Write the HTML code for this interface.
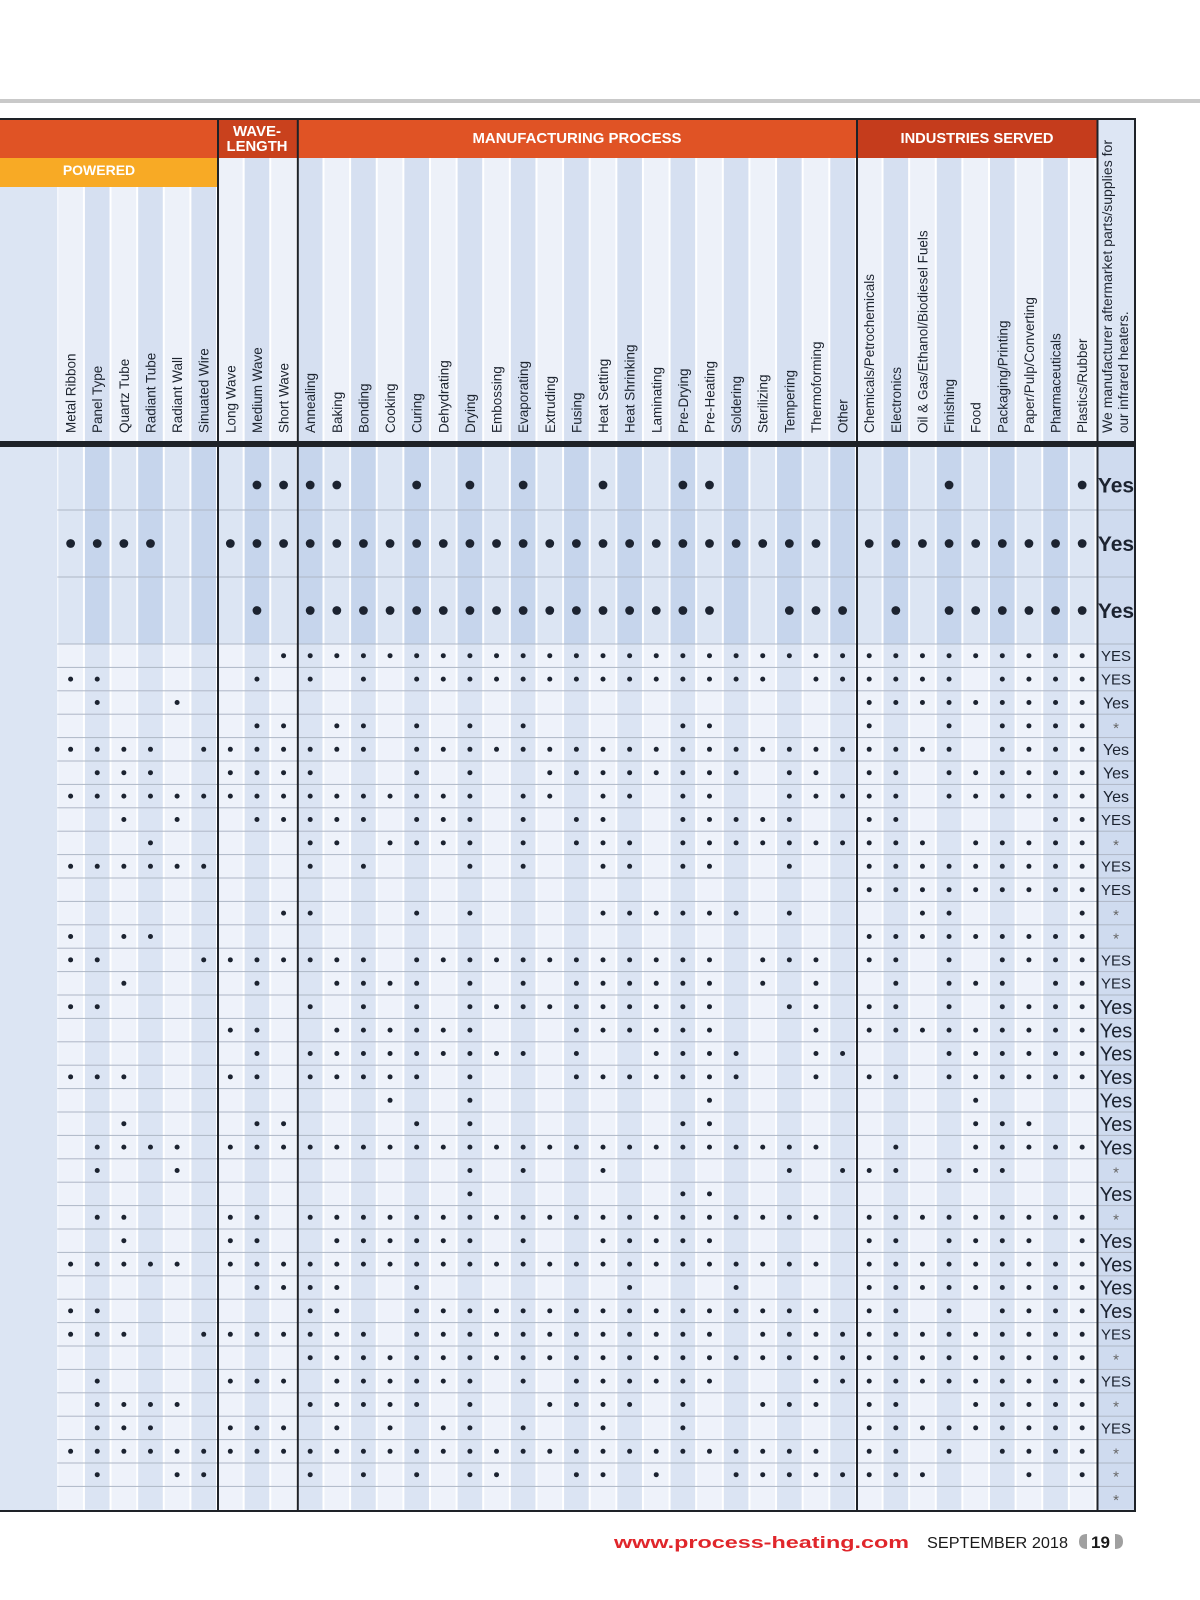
<!DOCTYPE html>
<html><head><meta charset="utf-8"><title>Infrared heater guide</title>
<style>
html,body{margin:0;padding:0;background:#fff;}
svg{display:block;font-family:"Liberation Sans",sans-serif;}
</style></head>
<body>
<svg id="chart" width="1200" height="1600" viewBox="0 0 1200 1600" xmlns="http://www.w3.org/2000/svg">
<rect x="0" y="0" width="1200" height="1600" fill="#ffffff"/>
<rect x="0" y="99" width="1200" height="4" fill="#c9c9c9"/>
<g id="layer"></g>
<text x="614" y="1548" font-size="17" font-weight="bold" fill="#e0262b" textLength="295" lengthAdjust="spacingAndGlyphs">www.process-heating.com</text>
<text x="927" y="1548" font-size="16" fill="#1a1a1a" textLength="141" lengthAdjust="spacingAndGlyphs">SEPTEMBER 2018</text>
<path d="M1087 1534 L1087 1549 Q1079 1549 1079 1541.5 Q1079 1534 1087 1534 Z" fill="#a0a0a0"/>
<text x="1091" y="1548" font-size="17" font-weight="bold" fill="#1a1a1a">19</text>
<path d="M1115 1534 L1115 1549 Q1123 1549 1123 1541.5 Q1123 1534 1115 1534 Z" fill="#a0a0a0"/>
</svg>
<script>
const columnLabels = ["Metal Ribbon","Panel Type","Quartz Tube","Radiant Tube","Radiant Wall","Sinuated Wire",
"Long Wave","Medium Wave","Short Wave",
"Annealing","Baking","Bonding","Cooking","Curing","Dehydrating","Drying","Embossing","Evaporating","Extruding","Fusing","Heat Setting","Heat Shrinking","Laminating","Pre-Drying","Pre-Heating","Soldering","Sterilizing","Tempering","Thermoforming","Other",
"Chemicals/Petrochemicals","Electronics","Oil & Gas/Ethanol/Biodiesel Fuels","Finishing","Food","Packaging/Printing","Paper/Pulp/Converting","Pharmaceuticals","Plastics/Rubber"];
const groupNames = ["POWERED","WAVE-LENGTH","MANUFACTURING PROCESS","INDUSTRIES SERVED"];
const rowLabels = ["Yes","Yes","Yes","YES","YES","Yes","*","Yes","Yes","Yes","YES","*","YES","YES","*","*","YES","YES","Yes","Yes","Yes","Yes","Yes","Yes","Yes","*","Yes","*","Yes","Yes","Yes","Yes","YES","*","YES","*","YES","*","*","*"];
const rowDots = [
[7,8,9,10,13,15,17,20,23,24,33,38],
[0,1,2,3,6,7,8,9,10,11,12,13,14,15,16,17,18,19,20,21,22,23,24,25,26,27,28,30,31,32,33,34,35,36,37,38],
[7,9,10,11,12,13,14,15,16,17,18,19,20,21,22,23,24,27,28,29,31,33,34,35,36,37,38],
[8,9,10,11,12,13,14,15,16,17,18,19,20,21,22,23,24,25,26,27,28,29,30,31,32,33,34,35,36,37,38],
[0,1,7,9,11,13,14,15,16,17,18,19,20,21,22,23,24,25,26,28,29,30,31,32,33,35,36,37,38],
[1,4,30,31,32,33,34,35,36,37,38],
[7,8,10,11,13,15,17,23,24,30,33,35,36,37,38],
[0,1,2,3,5,6,7,8,9,10,11,13,14,15,16,17,18,19,20,21,22,23,24,25,26,27,28,29,30,31,32,33,35,36,37,38],
[1,2,3,6,7,8,9,13,15,18,19,20,21,22,23,24,25,27,28,30,31,33,34,35,36,37,38],
[0,1,2,3,4,5,6,7,8,9,10,11,12,13,14,15,17,18,20,21,23,24,27,28,29,30,31,33,34,35,36,37,38],
[2,4,7,8,9,10,11,13,14,15,17,19,20,23,24,25,26,27,30,31,37,38],
[3,9,10,12,13,14,15,17,19,20,21,23,24,25,26,27,28,29,30,31,32,34,35,36,37,38],
[0,1,2,3,4,5,9,11,15,17,20,21,23,24,27,30,31,32,33,34,35,36,37,38],
[30,31,32,33,34,35,36,37,38],
[8,9,13,15,20,21,22,23,24,25,27,32,33,38],
[0,2,3,30,31,32,33,34,35,36,37,38],
[0,1,5,6,7,8,9,10,11,13,14,15,16,17,18,19,20,21,22,23,24,26,27,28,30,31,33,35,36,37,38],
[2,7,10,11,12,13,15,17,19,20,21,22,23,24,26,28,31,33,34,35,37,38],
[0,1,9,11,13,15,16,17,18,19,20,21,22,23,24,27,28,30,31,33,35,36,37,38],
[6,7,10,11,12,13,14,15,19,20,21,22,23,24,28,30,31,32,33,34,35,36,37,38],
[7,9,10,11,12,13,14,15,16,17,19,22,23,24,25,28,29,33,34,35,36,37,38],
[0,1,2,6,7,9,10,11,12,13,15,19,20,21,22,23,24,25,28,30,31,33,34,35,36,37,38],
[12,15,24,34],
[2,7,8,13,15,23,24,34,35,36],
[1,2,3,4,6,7,8,9,10,11,12,13,14,15,16,17,18,19,20,21,22,23,24,25,26,27,28,31,34,35,36,37,38],
[1,4,15,17,20,27,29,30,31,33,34,35],
[15,23,24],
[1,2,6,7,9,10,11,12,13,14,15,16,17,18,19,20,21,22,23,24,25,26,27,28,30,31,32,33,34,35,36,37,38],
[2,6,7,10,11,12,13,14,15,17,20,21,22,23,24,30,31,33,34,35,36,38],
[0,1,2,3,4,6,7,8,9,10,11,12,13,14,15,16,17,18,19,20,21,22,23,24,25,26,27,28,30,31,32,33,34,35,36,37,38],
[7,8,9,10,13,21,25,30,31,32,33,34,35,36,37,38],
[0,1,9,10,13,14,15,16,17,18,19,20,21,22,23,24,25,26,27,28,30,31,33,35,36,37,38],
[0,1,2,5,6,7,8,9,10,11,13,14,15,16,17,18,19,20,21,22,23,24,26,27,28,29,30,31,32,33,34,35,36,37,38],
[9,10,11,12,13,14,15,16,17,18,19,20,21,22,23,24,25,26,27,28,29,30,31,32,33,34,35,36,37,38],
[1,6,7,8,10,11,12,13,14,15,17,19,20,21,22,23,24,28,29,30,31,32,33,34,35,36,37,38],
[1,2,3,4,9,10,11,12,13,15,18,19,20,21,23,26,27,28,30,31,34,35,36,37,38],
[1,2,3,6,7,8,10,12,14,15,17,20,23,30,31,32,33,34,35,36,37,38],
[0,1,2,3,4,5,6,7,8,9,10,11,12,13,14,15,16,17,18,19,20,21,22,23,24,25,26,27,28,30,31,33,35,36,37,38],
[1,4,5,9,11,13,15,16,19,20,22,25,26,27,28,29,30,31,32,36,38],
[]
];
const bigLabelRows = [0,1,2,18,19,20,21,22,23,24,26,28,29,30,31];

const NS = "http://www.w3.org/2000/svg";
const layer = document.getElementById("layer");
const X0 = 57.3, CW = 26.62, LASTX = 1097, RIGHT = 1135;
const BODY_TOP = 447, SMALL_TOP = 644, SMALL_H = 23.4;
const bigRowEdges = [447, 510, 577, 644];
function colX(k){ return X0 + k*CW; }
function colC(k){ return X0 + k*CW + CW/2; }
function rowTop(r){ return r < 3 ? bigRowEdges[r] : SMALL_TOP + (r-3)*SMALL_H; }
function rowBottom(r){ return r < 3 ? bigRowEdges[r+1] : SMALL_TOP + (r-2)*SMALL_H; }
function rowCenter(r){ return r === 0 ? 485 : (rowTop(r)+rowBottom(r))/2; }
function mk(tag, attrs){ const e = document.createElementNS(NS, tag); for (const k in attrs) e.setAttribute(k, attrs[k]); layer.appendChild(e); return e; }

let e = mk("rect",{x:0,y:187,width:X0,height:1512-187,fill:"#dce5f3"});


const nCols = columnLabels.length;
const rowsEnd = rowBottom(rowLabels.length-1);
for (let k=0;k<nCols;k++){
  const odd = k%2===1;
  const top = k<6 ? 187 : 158;
  e = mk("rect",{x:colX(k)+1,y:top,width:CW-2,height:441-top,fill:odd?"#d6e0f1":"#edf1f9"});
  
  
  e = mk("rect",{x:colX(k)+1,y:BODY_TOP,width:CW-2,height:SMALL_TOP-BODY_TOP,fill:odd?"#c6d5ec":"#dce5f3"});
  
  
  e = mk("rect",{x:colX(k)+1,y:SMALL_TOP,width:CW-2,height:rowsEnd-SMALL_TOP,fill:odd?"#dbe4f3":"#eef2fa"});
  
  
}
e = mk("rect",{x:LASTX,y:120,width:RIGHT-LASTX,height:321,fill:"#dde6f4"});


e = mk("rect",{x:LASTX,y:BODY_TOP,width:RIGHT-LASTX,height:rowsEnd-BODY_TOP,fill:"#cfdbef"});



e = mk("rect",{x:0,y:120,width:217,height:38,fill:"#e05325"});


e = mk("rect",{x:0,y:158,width:217,height:29,fill:"#f8aa25"});


e = mk("rect",{x:217,y:120,width:80,height:38,fill:"#c9411d"});


e = mk("rect",{x:297,y:120,width:560,height:38,fill:"#e05325"});


e = mk("rect",{x:857,y:120,width:240,height:38,fill:"#c53c1c"});



function txt(x,y,s,attrs){ const t = mk("text",Object.assign({x:x,y:y},attrs)); t.textContent = s; return t; }
e = txt(99,175,groupNames[0],{"font-size":14,"font-weight":"bold",fill:"#fff","text-anchor":"middle"});


e = txt(257,136,"WAVE-",{"font-size":15,"font-weight":"bold",fill:"#fff","text-anchor":"middle"});


e = txt(257,151,"LENGTH",{"font-size":15,"font-weight":"bold",fill:"#fff","text-anchor":"middle",textLength:61,lengthAdjust:"spacingAndGlyphs"});


e = txt(577,143,groupNames[2],{"font-size":15,"font-weight":"bold",fill:"#fff","text-anchor":"middle",textLength:209,lengthAdjust:"spacingAndGlyphs"});


e = txt(977,143,groupNames[3],{"font-size":15,"font-weight":"bold",fill:"#fff","text-anchor":"middle",textLength:153,lengthAdjust:"spacingAndGlyphs"});



for (let k=0;k<nCols;k++){
  const bx = colC(k)+5;
  e = txt(bx,433,columnLabels[k],{"font-size":13.5,fill:"#1e2530",transform:"rotate(-90 "+bx+" 433)"});
  
  
}
e = txt(1112,433,"We manufacturer aftermarket parts/supplies for",{"font-size":13.5,fill:"#1e2530",transform:"rotate(-90 1112 433)",textLength:293,lengthAdjust:"spacingAndGlyphs"});


e = txt(1128,433,"our infrared heaters.",{"font-size":13.5,fill:"#1e2530",transform:"rotate(-90 1128 433)"});



for (let r=0;r<rowLabels.length-1;r++){
  const y = rowBottom(r);
  e = mk("rect",{x:X0,y:y-0.5,width:RIGHT-X0,height:1,fill:"#aeb7c6"});
  
  
}
for (let r=0;r<rowDots.length;r++){
  const big = r<3;
  const cy = rowCenter(r);
  for (const k of rowDots[r]){
    e = mk("circle",{cx:colC(k),cy:cy,r:big?4.4:2.5,fill:"#1c2330"});
    
    
  }
  const lab = rowLabels[r];
  let size = 15, weight = "normal", fill = "#1c2330";
  if (lab === "*"){ size = 15; fill = "#666"; }
  else if (big){ size = 21; weight = "bold"; }
  else if (bigLabelRows.indexOf(r) >= 0){ size = 20; }
  else if (lab === "Yes"){ size = 16; }
  e = txt(1116, cy + (lab==="*" ? 7 : size*0.36), lab, {"font-size":size,"font-weight":weight,fill:fill,"text-anchor":"middle"});
  
  
}

e = mk("rect",{x:0,y:118,width:RIGHT+1,height:2,fill:"#1e2228"});


e = mk("rect",{x:0,y:441,width:RIGHT+1,height:6,fill:"#1e2228"});


e = mk("rect",{x:0,y:1510,width:RIGHT+1,height:2,fill:"#1e2228"});


const vlines = [217, 296.8, 856, 1096.5, 1134];
for (const vx of vlines){
  e = mk("rect",{x:vx,y:118,width:2,height:1394,fill:"#1e2228"});
  
  
}
</script>
</body></html>
